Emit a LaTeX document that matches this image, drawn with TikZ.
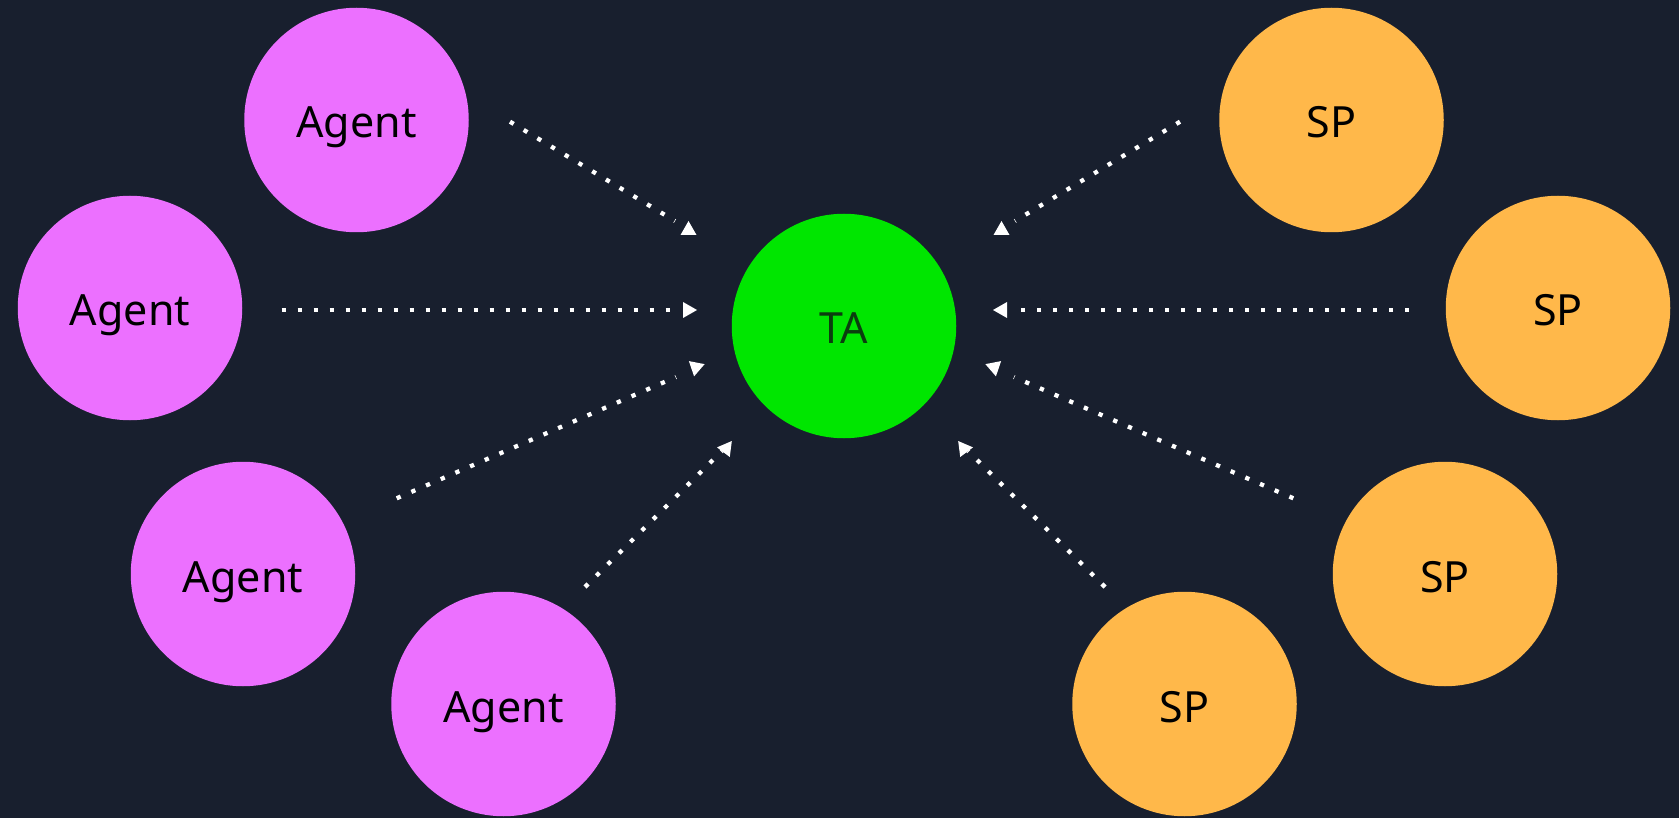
\documentclass[tikz,border=0pt]{standalone}
\usepackage{fontspec}
\setmainfont{Noto Sans}
\definecolor{bgc}{HTML}{181F2E}
\definecolor{agentc}{HTML}{EC70FF}
\definecolor{tac}{HTML}{00E600}
\definecolor{spc}{HTML}{FFB84A}
\definecolor{tatext}{HTML}{0B3D0F}
\tikzset{
  bubble/.style={circle, minimum size=224.5pt, inner sep=0pt, text height=36pt, text depth=0pt,
    font=\fontsize{43}{50}\selectfont, text=black},
  agentnode/.style={bubble, fill=agentc},
  spnode/.style={bubble, fill=spc},
  tanode/.style={bubble, fill=tac, text=tatext},
  dotline/.style={white, line width=4.3pt, dash pattern=on 4.3pt off 11.7pt},
}
\newcommand{\tipat}[2]{\fill[white, shift={(#1)}, rotate=#2] (7.5,0) -- (-6.5,8) -- (-6.5,-8) -- cycle;}
\begin{document}
\begin{tikzpicture}[x=1pt, y=-1pt]
\useasboundingbox (0,0) rectangle (1679,818);
\fill[bgc] (0,0) rectangle (1679,818);
% nodes
\node[tanode] (ta) at (844,326) {TA};
\node[agentnode] (a1) at (356.5,120) {Agent};
\node[agentnode] (a2) at (130,308) {Agent};
\node[agentnode] (a3) at (243,574) {Agent};
\node[agentnode] (a4) at (503.5,704) {Agent};
\node[spnode] (s1) at (1331.5,120) {SP};
\node[spnode] (s2) at (1558,308) {SP};
\node[spnode] (s3) at (1445,574) {SP};
\node[spnode] (s4) at (1184.5,704) {SP};
% connector ends
\coordinate (a1s) at (510,121.7);  \coordinate (a1e) at (675,221);
\coordinate (a2s) at (281.7,310);  \coordinate (a2e) at (670,310);
\coordinate (a3s) at (396.7,498.3);\coordinate (a3e) at (676,377);
\coordinate (a4s) at (585,587);    \coordinate (a4e) at (722,451);
\coordinate (s1s) at (1180,121.7); \coordinate (s1e) at (1015,221);
\coordinate (s2s) at (1409,310);   \coordinate (s2e) at (1020,310);
\coordinate (s3s) at (1293.3,498.3);\coordinate (s3e) at (1014,377);
\coordinate (s4s) at (1105,587);   \coordinate (s4e) at (968,451);
% tips
\coordinate (a1t) at (688.5,228.5);
\coordinate (a2t) at (689.5,310);
\coordinate (a3t) at (695.5,369);
\coordinate (a4t) at (727.3,447);
\coordinate (s1t) at (1001.5,228.5);
\coordinate (s2t) at (1000.5,310);
\coordinate (s3t) at (994.5,369);
\coordinate (s4t) at (962.7,447);
% connectors
\foreach \n in {a1,a2,a3,a4,s1,s2,s3,s4}{\draw[dotline] (\n s) -- (\n e);}
\tipat{a1t}{90}
\tipat{a2t}{0}
\tipat{a3t}{-101}
\tipat{a4t}{53}
\tipat{s1t}{90}
\tipat{s2t}{180}
\tipat{s3t}{-79}
\tipat{s4t}{127}
\end{tikzpicture}
\end{document}
